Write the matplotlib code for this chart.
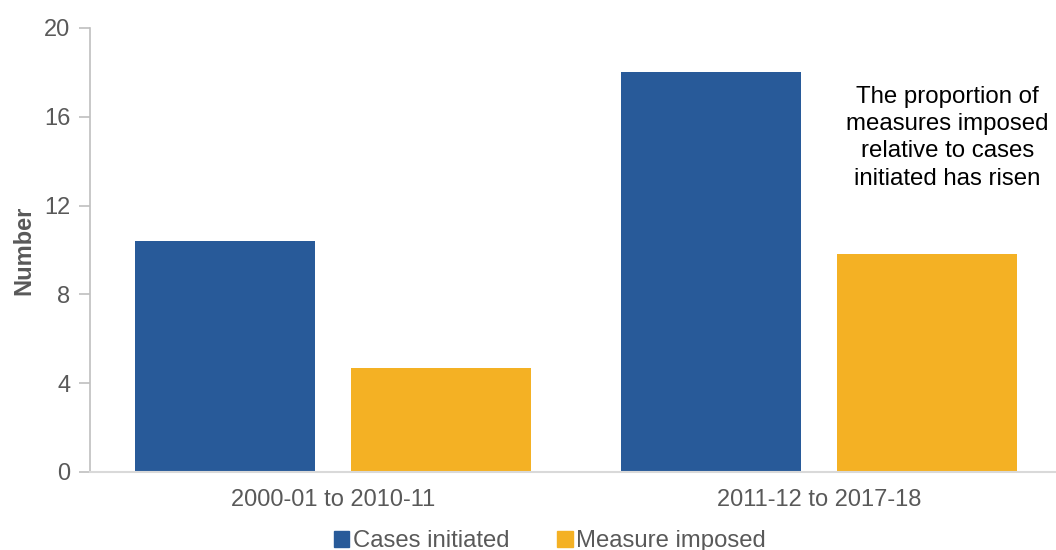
import matplotlib
matplotlib.use("Agg")
from matplotlib import pyplot as plt
from matplotlib.patches import Patch

periods = ["2000-01 to 2010-11", "2011-12 to 2017-18"]
cases_initiated = [10.4, 18.0]
measure_imposed = [4.7, 9.8]
series_names = ["Cases initiated", "Measure imposed"]
y_ticks = [0, 4, 8, 12, 16, 20]
note = "The proportion of\nmeasures imposed\nrelative to cases\ninitiated has risen"

blue = "#285A99"
yellow = "#F4B124"
grey_text = "#595959"
axis_grey = "#BFBFBF"

plt.rcParams["font.family"] = ["Liberation Sans", "DejaVu Sans"]

fig = plt.figure(figsize=(10.56, 5.5), dpi=100)
ax = fig.add_axes([90 / 1056, 1 - 472 / 550, (1055 - 90) / 1056, (472 - 28) / 550])

x = list(range(len(periods)))
w = 0.37
off = 0.222
ax.bar([i - off for i in x], cases_initiated, width=w, color=blue, label=series_names[0])
ax.bar([i + off for i in x], measure_imposed, width=w, color=yellow, label=series_names[1])

ax.set_xlim(-0.5, 1.486)
ax.set_ylim(0, 20)
ax.set_yticks(y_ticks)
ax.set_xticks(x)
ax.set_xticklabels(periods)
ax.tick_params(axis="y", colors=axis_grey, labelcolor=grey_text, labelsize=17, length=8, width=1.2, pad=6)
ax.tick_params(axis="x", length=0, labelcolor=grey_text, labelsize=17, pad=12)

for s in ["top", "right"]:
    ax.spines[s].set_visible(False)
ax.spines["left"].set_color(axis_grey)
ax.spines["bottom"].set_color("#D9D9D9")
ax.spines["left"].set_linewidth(1.2)
ax.spines["bottom"].set_linewidth(1.5)

ax.set_ylabel("Number", fontsize=17, fontweight="bold", color=grey_text, labelpad=6)

ax.text(1.264, 15.05, note, ha="center", va="center", fontsize=17.3, color="black", linespacing=1.3)

handles = [Patch(color=blue), Patch(color=yellow)]
fig.legend(handles, series_names, loc="center", bbox_to_anchor=(550 / 1056, 1 - 541 / 550),
           ncol=2, frameon=False, fontsize=17.2, labelcolor=grey_text,
           handlelength=0.65, handleheight=0.65, handletextpad=0.15, columnspacing=2.0)

fig.savefig("out.png", dpi=100)
